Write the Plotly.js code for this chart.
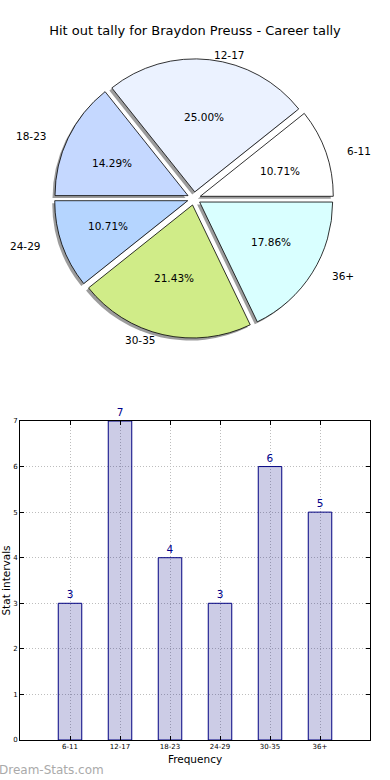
<!DOCTYPE html>
<html>
<head>
<meta charset="utf-8">
<script src="https://cdn.plot.ly/plotly-3.0.1.min.js"></script>
<style>
html,body{margin:0;padding:0;background:#fff;}
#chart{width:390px;height:780px;}
</style>
</head>
<body>
<div id="chart"></div>
<script>
// ---- data ----
const categories = ["6-11", "12-17", "18-23", "24-29", "30-35", "36+"];
const counts = [3, 7, 4, 3, 6, 5];
const sliceColors = ["#ffffff", "#ebf2ff", "#c5d8ff", "#b5d5ff", "#d0ec88", "#d9ffff"];
const titleText = "Hit out tally for Braydon Preuss - Career tally";
const xTitle = "Frequency";
const yTitle = "Stat intervals";
const yTicks = [0, 1, 2, 3, 4, 5, 6, 7];

// ---- layout helpers (pixels -> paper) ----
const W = 390, H = 780;
const font = "DejaVu Sans, Verdana, sans-serif";
const pull = 0.05;
const pieR = 133, pcx = 194, pcy = 198.5;
const labelRx = 139.5, labelRy = 126;   // text placement radii
const half = pieR * (1 + pull);
function pieDomain(dx, dy) {
  return {
    x: [(pcx - half + dx) / W, (pcx + half + dx) / W],
    y: [(H - (pcy + half + dy)) / H, (H - (pcy - half + dy)) / H]
  };
}
const pulls = categories.map(() => pull);
const total = counts.reduce((a, b) => a + b, 0);
// counterclockwise pies in plotly end the first slice at `rotation`;
// shift so the first slice starts at 3 o'clock like the reference
const rot = 90 - 360 * counts[0] / total;

const pieBase = {
  type: "pie", values: counts, labels: categories, sort: false,
  direction: "counterclockwise", rotation: rot, pull: pulls,
  hoverinfo: "skip", showlegend: false, textinfo: "none"
};

const shadow = Object.assign({}, pieBase, {
  domain: pieDomain(-2.5, 2.5),
  marker: {colors: categories.map(() => "rgba(90,90,90,0.6)"), line: {width: 0}}
});
const pie = Object.assign({}, pieBase, {
  domain: pieDomain(0, 0),
  marker: {colors: sliceColors, line: {color: "#000", width: 0.8}}
});

// text annotations placed along each slice's mid angle (derived from counts)
const annotations = [];
let cum = 0;
counts.forEach((v, i) => {
  const mid = 2 * Math.PI * (cum + v / 2) / total;
  cum += v;
  const c = Math.cos(mid), s = Math.sin(mid);
  const pct = (100 * v / total).toFixed(2) + "%";
  const dp = 0.6 + pull, dl = 1.1 + pull;
  annotations.push({
    text: pct, xref: "paper", yref: "paper", showarrow: false,
    x: (pcx + dp * labelRx * c) / W, y: (H - (pcy - dp * labelRy * s)) / H,
    xanchor: "center", yanchor: "middle",
    font: {family: font, size: 10.5, color: "#000"}
  });
  annotations.push({
    text: categories[i], xref: "paper", yref: "paper", showarrow: false,
    x: (pcx + dl * labelRx * c) / W, y: (H - (pcy - dl * labelRy * s)) / H,
    xanchor: c >= 0 ? "left" : "right", yanchor: "middle",
    font: {family: font, size: 10.5, color: "#000"}
  });
});
annotations.push({
  text: "Dream-Stats.com", xref: "paper", yref: "paper",
  x: -3 / W, y: 10 / H, xanchor: "left", yanchor: "middle", showarrow: false,
  font: {family: font, size: 12, color: "#aaaaaa"}
});

const bars = {
  type: "bar", x: categories, y: counts, width: 0.47,
  marker: {color: "rgba(0,0,128,0.2)", line: {color: "#000080", width: 1}},
  text: counts.map(String), textposition: "outside", cliponaxis: false,
  textfont: {family: font, size: 10.5, color: "#00008b"},
  xaxis: "x", yaxis: "y", hoverinfo: "skip", showlegend: false
};

const axisCommon = {
  showline: true, linecolor: "#000", linewidth: 1, mirror: "ticks",
  ticks: "inside", ticklen: 4, tickcolor: "#000",
  showgrid: true, gridcolor: "#bdbdbd", griddash: "1px,2px", gridwidth: 1,
  zeroline: false, tickfont: {family: font, size: 7, color: "#000"},
  fixedrange: true
};

const layout = {
  width: W, height: H, margin: {l: 0, r: 0, t: 0, b: 0},
  paper_bgcolor: "#fff", plot_bgcolor: "#fff",
  font: {family: font, color: "#000"},
  title: {text: titleText, x: 0.5, xanchor: "center", y: 1 - 30 / H, yanchor: "middle",
          font: {family: font, size: 13, color: "#000"}},
  xaxis: Object.assign({}, axisCommon, {
    domain: [20 / W, 370 / W], type: "category", range: [-1, 6],
    categoryorder: "array", categoryarray: categories,
    title: {text: xTitle, font: {family: font, size: 10.5}, standoff: 5}
  }),
  yaxis: Object.assign({}, axisCommon, {
    domain: [40 / H, 359 / H], range: [0, 7], tickvals: yTicks,
    title: {text: yTitle, font: {family: font, size: 10.5}, standoff: 9}
  }),
  annotations: annotations,
  hovermode: false
};

Plotly.newPlot("chart", [shadow, pie, bars], layout, {staticPlot: true, displayModeBar: false});
</script>
</body>
</html>
